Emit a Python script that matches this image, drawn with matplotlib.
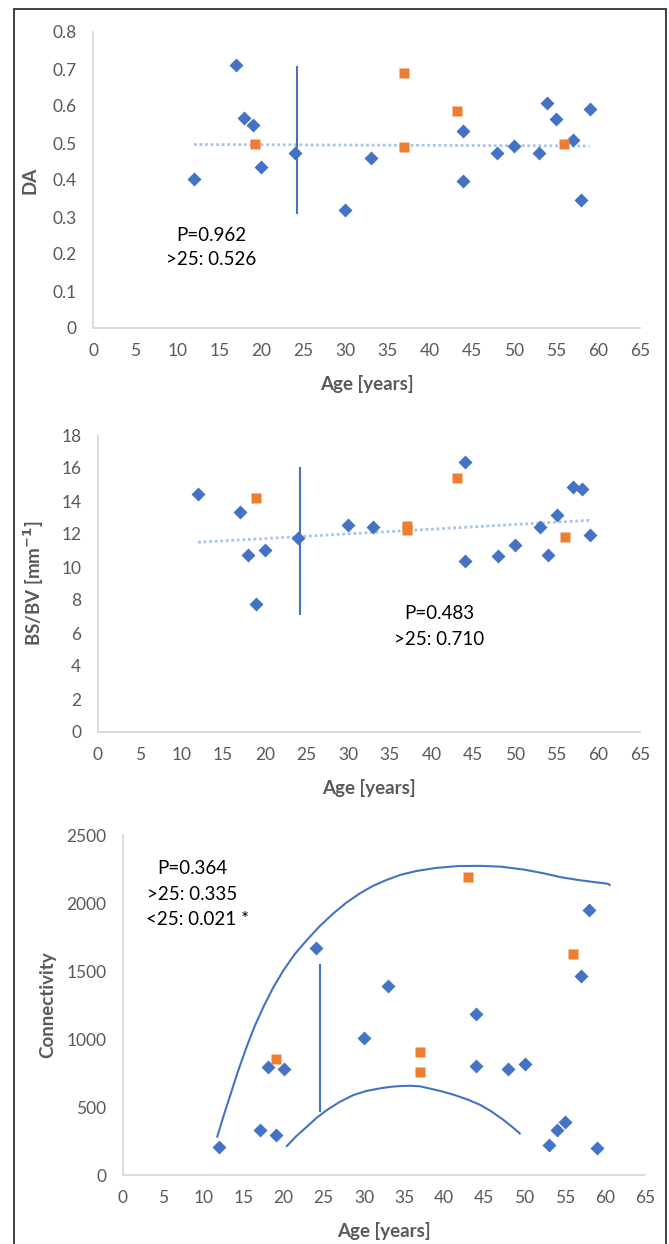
import matplotlib.pyplot as plt
from matplotlib.patches import Rectangle

plt.rcParams["font.family"] = ["Lato", "DejaVu Sans"]

BLUE = "#4472C4"
ORANGE = "#ED7D31"
TREND = "#A9C4EB"
TICK = "#595959"
SPINE = "#D9D9D9"

# ---- panel 1: DA ----
da_age_b = [12, 17, 18, 19, 20, 24, 30, 33, 44, 44, 48, 50, 53, 54, 55, 57, 58, 59]
da_val_b = [0.403, 0.710, 0.568, 0.549, 0.434, 0.474, 0.318, 0.460, 0.532,
            0.398, 0.474, 0.492, 0.474, 0.609, 0.564, 0.507, 0.345, 0.591]
da_age_o = [19.2, 37, 37, 43.2, 56]
da_val_o = [0.496, 0.689, 0.488, 0.586, 0.496]
da_trend_x = [12, 59]
da_trend_y = [0.496, 0.492]
da_vline_x = 24.3
da_vline_y = [0.310, 0.706]

# ---- panel 2: BS/BV ----
bs_age_b = [12, 17, 18, 19, 20, 24, 30, 33, 44, 44, 48, 50, 53, 54, 55, 57, 58, 59]
bs_val_b = [14.45, 13.36, 10.71, 7.75, 11.04, 11.74, 12.55, 12.45, 16.34,
            10.35, 10.65, 11.36, 12.45, 10.71, 13.16, 14.87, 14.75, 11.95]
bs_age_o = [19, 37, 37, 43, 56]
bs_val_o = [14.16, 12.50, 12.25, 15.38, 11.84]
bs_trend_x = [12, 59]
bs_trend_y = [11.50, 12.83]
bs_vline_x = 24.2
bs_vline_y = [7.16, 16.02]

# ---- panel 3: Connectivity ----
cn_age_b = [12, 17, 19, 18, 20, 24, 30, 33, 44, 44, 48, 50, 53, 54, 55, 57, 58, 59]
cn_val_b = [208, 331, 294, 792, 779, 1667, 1010, 1387, 1181, 804, 779, 816,
            221, 331, 392, 1461, 1949, 196]
cn_age_o = [19, 37, 37, 43, 56]
cn_val_o = [855, 904, 757, 2191, 1623]
cn_vline_x = 24.5
cn_vline_y = [470, 1544]
upper_x = [11.74, 12.5, 13.3, 14.3, 15.4, 16.4, 17.5, 18.7, 20.0, 21.4, 22.9,
           24.5, 26.2, 27.8, 29.5, 31.1, 32.8, 34.5, 36.5, 39.0, 41.8, 44.5,
           47.1, 50.0, 52.4, 54.5, 56.7, 58.5, 59.9, 60.4, 60.6]
upper_y = [282, 430, 576, 760, 943, 1095, 1238, 1378, 1507, 1625, 1728,
           1830, 1924, 2002, 2071, 2125, 2169, 2206, 2235, 2258, 2272, 2273,
           2267, 2245, 2218, 2190, 2169, 2155, 2145, 2141, 2132]
lower_x = [20.4, 21.6, 22.9, 24.1, 25.4, 27.0, 28.7, 30.3, 32.0, 33.3, 34.5,
           35.8, 37.0, 38.1, 39.7, 41.3, 42.9, 44.5, 45.8, 47.1, 48.3, 49.4]
lower_y = [213, 287, 355, 420, 478, 538, 588, 618, 637, 648, 654, 656, 652,
           637, 615, 588, 555, 515, 470, 417, 362, 306]

fig = plt.figure(figsize=(6.69, 12.44), dpi=100)
fig.patches.append(Rectangle((14 / 669, -0.01), 652 / 669, 1 - 9 / 1244 + 0.01,
                             transform=fig.transFigure, fill=False,
                             edgecolor="#404040", linewidth=1.4))


def style_axes(ax, ymax, ystep, ylabel, ylabelpad):
    ax.set_xlim(0, 65)
    ax.set_ylim(0, ymax)
    ax.set_xticks(range(0, 66, 5))
    ax.set_yticks([ystep * i for i in range(int(round(ymax / ystep)) + 1)])
    for s in ("top", "right"):
        ax.spines[s].set_visible(False)
    for s in ("left", "bottom"):
        ax.spines[s].set_color(SPINE)
        ax.spines[s].set_linewidth(1.3)
    ax.tick_params(length=0, colors=TICK, labelsize=12.5)
    ax.tick_params(axis="x", pad=11)
    ax.tick_params(axis="y", pad=12)
    ax.set_xlabel("Age [years]", fontsize=13.5, fontweight="bold",
                  color=TICK, labelpad=11)
    ax.set_ylabel(ylabel, fontsize=13.5, fontweight="bold", color=TICK,
                  labelpad=ylabelpad)
    ax.margins(0)


def scatter(ax, xb, yb, xo, yo):
    ax.plot(xb, yb, "D", color=BLUE, ms=7, mec="none", zorder=4,
            clip_on=False)
    ax.plot(xo, yo, "s", color=ORANGE, ms=7, mec="none", zorder=4,
            clip_on=False)


# top
ax1 = fig.add_axes([93 / 669, 1 - 328 / 1244, 547 / 669, 296 / 1244])
ax1.plot(da_trend_x, da_trend_y, color=TREND, lw=2, ls=(0, (1, 1)), zorder=2)
ax1.plot([da_vline_x, da_vline_x], da_vline_y, color=BLUE, lw=1.5, zorder=3)
scatter(ax1, da_age_b, da_val_b, da_age_o, da_val_o)
style_axes(ax1, 0.8, 0.1, "DA", 10)
ax1.set_yticklabels(["0"] + [f"{0.1 * i:.1f}" for i in range(1, 9)])
ax1.text(14.0, 0.25, "P=0.962", ha="center", va="center", fontsize=13.5)
ax1.text(14.0, 0.184, ">25: 0.526", ha="center", va="center", fontsize=13.5)

# middle
ax2 = fig.add_axes([98 / 669, 1 - 732 / 1244, 542 / 669, 297 / 1244])
ax2.plot(bs_trend_x, bs_trend_y, color=TREND, lw=2, ls=(0, (1, 1)), zorder=2)
ax2.plot([bs_vline_x, bs_vline_x], bs_vline_y, color=BLUE, lw=1.5, zorder=3)
scatter(ax2, bs_age_b, bs_val_b, bs_age_o, bs_val_o)
style_axes(ax2, 18, 2, r"BS/BV [mm$^{\mathbf{-1}}$]", 11)
ax2.text(40.9, 7.16, "P=0.483", ha="center", va="center", fontsize=13.5)
ax2.text(40.9, 5.63, ">25: 0.710", ha="center", va="center", fontsize=13.5)

# bottom
ax3 = fig.add_axes([123 / 669, 1 - 1175 / 1244, 522 / 669, 340 / 1244])
ax3.plot(upper_x, upper_y, color=BLUE, lw=1.5, zorder=3)
ax3.plot(lower_x, lower_y, color=BLUE, lw=1.5, zorder=3)
ax3.plot([cn_vline_x, cn_vline_x], cn_vline_y, color=BLUE, lw=1.5, zorder=3)
scatter(ax3, cn_age_b, cn_val_b, cn_age_o, cn_val_o)
style_axes(ax3, 2500, 500, "Connectivity", 7)
ax3.text(8.65, 2250, "P=0.364", ha="center", va="center", fontsize=13.5)
ax3.text(8.65, 2066, ">25: 0.335", ha="center", va="center", fontsize=13.5)
ax3.text(9.3, 1880, "<25: 0.021 *", ha="center", va="center", fontsize=13.5)

fig.savefig("out.png", dpi=100)
